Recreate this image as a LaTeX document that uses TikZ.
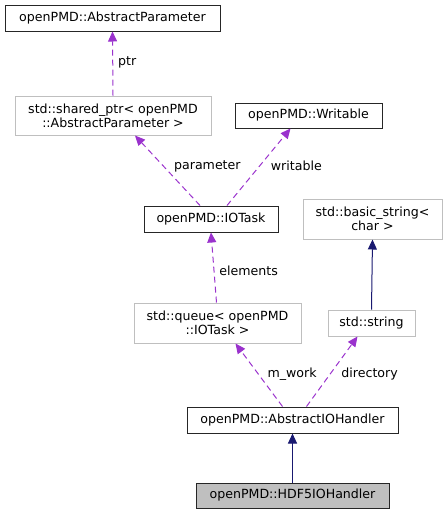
\documentclass[tikz,border=0pt]{standalone}
\usepackage{fontspec}
\setmainfont{DejaVu Sans}
\usetikzlibrary{arrows.meta,positioning}

\definecolor{edgepurple}{HTML}{9A32CD}
\definecolor{edgenavy}{HTML}{191970}
\definecolor{undoc}{HTML}{BFBFBF}

\begin{document}
\begin{tikzpicture}[x=1pt, y=-1pt, font=\fontsize{12.6}{14}\selectfont,
  cls/.style={draw=black!85, line width=1pt, inner sep=0pt, align=center},
  ext/.style={cls, draw=undoc},
  usage/.style={draw=edgepurple, line width=1pt, dash pattern=on 6pt off 4pt, -{Triangle[length=10pt, width=9pt, fill=edgepurple]}},
  inherit/.style={draw=edgenavy, line width=1pt, -{Triangle[length=10pt, width=9pt, fill=edgenavy]}},
  lbl/.style={inner sep=0pt}]

    \useasboundingbox (0,0) rectangle (447,515);

    \node[cls, minimum width=215pt, minimum height=26pt] (absparam)  at (112.5,18)  {openPMD::AbstractParameter};
    \node[ext, minimum width=196pt, minimum height=39pt] (sharedptr) at (113,115.5) {std::shared\_ptr< openPMD\\::AbstractParameter >};
    \node[cls, minimum width=147pt, minimum height=25pt] (writable)  at (308.5,115.5) {openPMD::Writable};
    \node[cls, minimum width=134pt, minimum height=26pt] (iotask)    at (211,219)   {openPMD::IOTask};
    \node[ext, minimum width=139pt, minimum height=40pt] (basicstr)  at (372.5,219) {std::basic\_string<\\char >};
    \node[ext, minimum width=167pt, minimum height=40pt] (queue)     at (217.5,323) {std::queue< openPMD\\::IOTask >};
    \node[ext, minimum width=87pt, minimum height=26pt]  (string)    at (371.5,323) {std::string};
    \node[cls, minimum width=211pt, minimum height=26pt] (aioh)      at (292.5,420) {openPMD::AbstractIOHandler};
    \node[cls, fill=undoc, minimum width=193pt, minimum height=25pt] (hdf5) at (292.5,495.5) {openPMD::HDF5IOHandler};

    \draw[usage] (sharedptr.north) -- (absparam.south) node[lbl, pos=0.52, right=5pt] {ptr};

    \draw[usage] ([xshift=-11pt]iotask.north) -- ([xshift=22pt]sharedptr.south) node[lbl, pos=0.56, right=10pt] {parameter};
    \draw[usage] ([xshift=16pt]iotask.north) -- ([xshift=-18pt]writable.south) node[lbl, pos=0.51, right=11pt] {writable};

    \draw[usage] ([xshift=-1pt]queue.north) -- (iotask.south) node[lbl, pos=0.46, right=5pt] {elements};

    \draw[inherit] (string.north) -- (basicstr.south);

    \draw[usage] ([xshift=-10pt]aioh.north) -- ([xshift=18pt]queue.south) node[lbl, pos=0.52, right=9pt] {m\_work};
    \draw[usage] ([xshift=14pt]aioh.north) -- ([xshift=-14pt]string.south) node[lbl, pos=0.46, right=11pt] {directory};

    \draw[inherit] (hdf5.north) -- (aioh.south);

\end{tikzpicture}
\end{document}
